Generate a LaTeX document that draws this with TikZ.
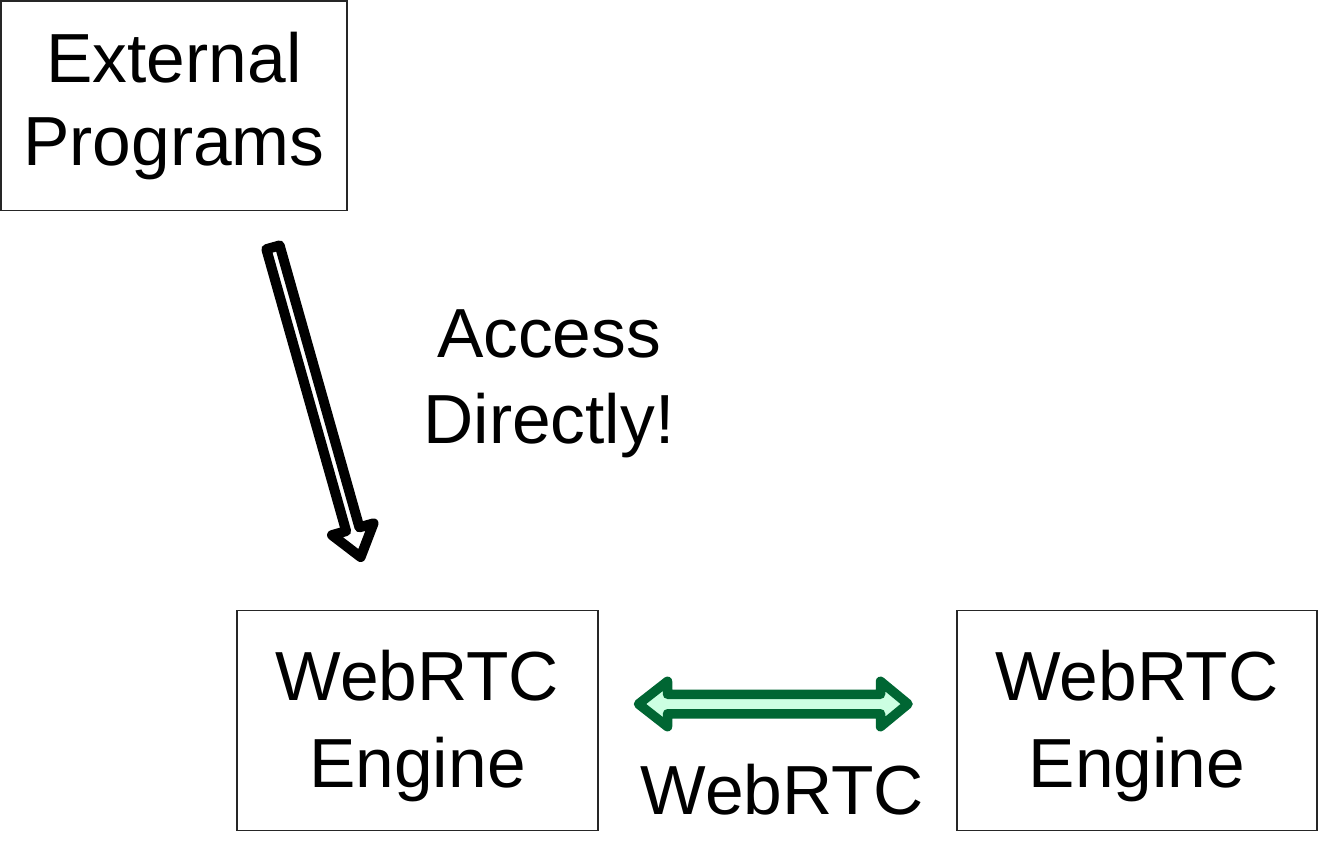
\documentclass[tikz,border=0pt]{standalone}
\usepackage{fontspec}
\setmainfont{Liberation Sans}
\usetikzlibrary{calc}
\definecolor{dgreen}{HTML}{006633}
\definecolor{lgreen}{HTML}{CCFFE2}
\tikzset{
  box/.style={draw=black!85, line width=1.3pt, fill=white, align=center, inner sep=0pt},
  boxfontA/.style={font=\fontsize{69.5}{83}\selectfont},
  boxfontB/.style={font=\fontsize{69.5}{87}\selectfont},
  lbl/.style={align=center, inner sep=0pt, font=\fontsize{69.5}{86}\selectfont},
  blockarrow/.style={draw=black, fill=white, line width=10pt, line join=round},
  greenarrow/.style={draw=dgreen, fill=lgreen, line width=9.5pt, line join=round},
}
\begin{document}
\begin{tikzpicture}[x=1pt,y=-1pt]
\useasboundingbox (0,0) rectangle (1318,851);

\node[box, boxfontA, minimum width=346pt, minimum height=209.5pt] (ext) at (174,105.8) {External\\Programs};
\node[box, boxfontB, minimum width=361pt, minimum height=219.5pt] (eng1) at (417.5,720.5) {\rule{0pt}{61pt}WebRTC\\Engine};
\node[box, boxfontB, minimum width=360pt, minimum height=219.5pt] (eng2) at (1137,720.5) {\rule{0pt}{61pt}WebRTC\\Engine};

\node[lbl] (acc) at (549,383.4) {Access\\Directly!};
\node[anchor=base, inner sep=0pt, font=\fontsize{69.5}{87}\selectfont] (wrtc) at (782.5,814) {WebRTC};

% single block arrow from External Programs towards the left engine
\coordinate (aT) at (273,247.3);
\coordinate (aH) at (360.6,557);
\begin{scope}[shift={(aT)}, rotate=-74.2]
  \draw[blockarrow] (0,-6.9) -- (293,-6.9) -- (293,-21.6) -- (321.9,0)
    -- (293,21.6) -- (293,6.9) -- (0,6.9) -- cycle;
\end{scope}

% double block arrow between the engines
\coordinate (dL) at (638.5,704);
\coordinate (dR) at (908,704);
\draw[greenarrow] (dL) -- ($(dL)+(29,-22.7)$) -- ($(dL)+(29,-9.75)$)
  -- ($(dR)+(-27.5,-9.75)$) -- ($(dR)+(-27.5,-22.7)$) -- (dR)
  -- ($(dR)+(-27.5,22.7)$) -- ($(dR)+(-27.5,9.75)$)
  -- ($(dL)+(29,9.75)$) -- ($(dL)+(29,22.7)$) -- cycle;
\end{tikzpicture}
\end{document}
